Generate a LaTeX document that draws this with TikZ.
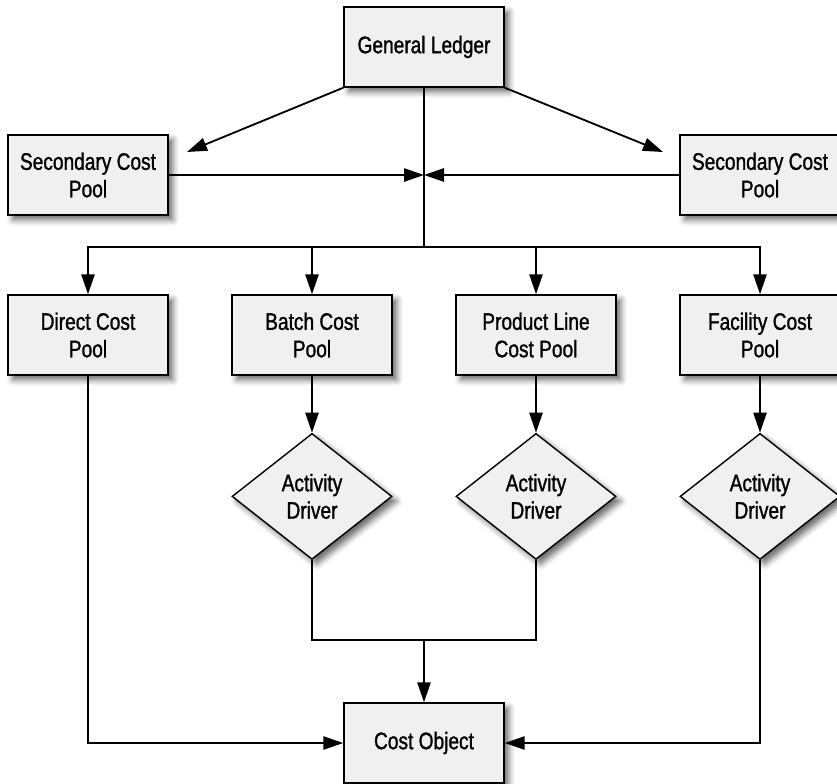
\documentclass[tikz,border=0pt]{standalone}
\usepackage{fontspec}
\setmainfont[FakeStretch=0.8, FakeBold=1.2]{Liberation Sans}
\usetikzlibrary{positioning,arrows.meta,calc,shapes.geometric,shadows.blur}
\tikzset{
  poolbox/.style={draw, line width=1pt, fill=black!6, align=center,
    minimum width=4cm, minimum height=2cm, inner sep=2pt,
    font=\fontsize{17}{19.5}\selectfont,
    blur shadow={shadow xshift=1.2mm, shadow yshift=-1.2mm,
      shadow blur radius=1.5mm, shadow opacity=60}},
  driverbox/.style={poolbox, diamond, minimum width=4cm, minimum height=3.15cm, inner sep=0pt},
  flowarrow/.style={-{Triangle[length=5mm, width=3.3mm]}, line width=1.3pt},
  flowline/.style={line width=1.3pt},
}

\begin{document}
\begin{tikzpicture}
  \useasboundingbox (0,0) rectangle (20.925,-19.6);
  % ledger and secondary pools
  \node[poolbox] (ledger) at (10.6,-1.175) {General Ledger};
  \node[poolbox] (secleft) at (2.2,-4.375) {Secondary Cost\\Pool};
  \node[poolbox] (secright) at (19.0,-4.375) {Secondary Cost\\Pool};
  % cost pools
  \node[poolbox] (direct) at (2.2,-8.375) {Direct Cost\\Pool};
  \node[poolbox] (batch) at (7.8,-8.375) {Batch Cost\\Pool};
  \node[poolbox] (prodline) at (13.4,-8.375) {Product Line\\Cost Pool};
  \node[poolbox] (facility) at (19.0,-8.375) {Facility Cost\\Pool};
  % drivers
  \node[driverbox, below=1.425cm of batch] (drvbatch) {Activity\\Driver};
  \node[driverbox, below=1.425cm of prodline] (drvprod) {Activity\\Driver};
  \node[driverbox, below=1.425cm of facility] (drvfac) {Activity\\Driver};
  \node[poolbox] (costobj) at (10.6,-18.575) {Cost Object};

  \coordinate (join) at (10.6,-4.375);
  \coordinate (bus) at (10.6,-6.175);
  \coordinate (merge) at (10.6,-16);
  \coordinate (toleft) at (4.675,-3.8);
  \coordinate (toright) at (16.575,-3.8);

  \draw[flowarrow] (ledger.south west) -- (toleft);
  \draw[flowarrow] (ledger.south east) -- (toright);
  \draw[flowline] (ledger.south) -- (bus);
  \draw[flowarrow] (secleft.east) -- (join);
  \draw[flowarrow] (secright.west) -- (join);
  \foreach \pool in {direct,batch,prodline,facility}
    \draw[flowarrow] (bus) -| (\pool.north);
  \foreach \pool/\drv in {batch/drvbatch,prodline/drvprod,facility/drvfac}
    \draw[flowarrow] (\pool.south) -- (\drv.north);
  \draw[flowline] (drvbatch.south) |- (merge) -| (drvprod.south);
  \draw[flowarrow] (merge) -- (costobj.north);
  \draw[flowarrow] (direct.south) |- (costobj.west);
  \draw[flowarrow] (drvfac.south) |- (costobj.east);
\end{tikzpicture}
\end{document}
